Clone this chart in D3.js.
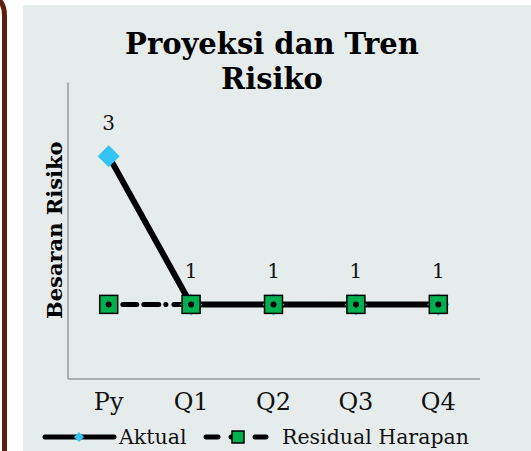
<!DOCTYPE html>
<html>
<head>
<meta charset="utf-8">
<script src="https://cdn.jsdelivr.net/npm/d3@7/dist/d3.min.js"></script>
<style>
  html, body { margin: 0; padding: 0; background: #ffffff; }
  svg { display: block; }
  text { font-family: "DejaVu Serif", "Liberation Serif", serif; }
</style>
</head>
<body>
<svg id="chart" width="531" height="451"></svg>
<script>
// Periods on the horizontal axis
const categories = ["Py", "Q1", "Q2", "Q3", "Q4"];
// Series values
const aktual = [3, 1, 1, 1, 1];
const residualHarapan = [1, 1, 1, 1, 1];
// Value labels shown above the Aktual points
const valueLabels = ["3", "1", "1", "1", "1"];
const titleLines = ["Proyeksi dan Tren", "Risiko"];
const yTitle = "Besaran Risiko";
const seriesNames = ["Aktual", "Residual Harapan"];

const W = 531, H = 451;
const svg = d3.select("#chart");

// Slide frame edge on the left and the chart panel
svg.append("path")
  .attr("d", "M4.5,451 V16 Q4.5,2 -4,-2")
  .attr("fill", "none")
  .attr("stroke", "#5b1f0e")
  .attr("stroke-width", 5);

svg.append("rect")
  .attr("x", 23).attr("y", 5)
  .attr("width", W - 23).attr("height", H - 5)
  .attr("fill", "#e6ecec");

const plot = { left: 67.5, right: 479.5, top: 82, bottom: 378.5 };

const x = d3.scaleBand()
  .domain(categories)
  .range([plot.left, plot.right])
  .padding(0);

const y = d3.scaleLinear()
  .domain([0, 4])
  .range([plot.bottom, plot.top]);

const cx = d => x(d) + x.bandwidth() / 2;

// Axes
const xAxis = d3.axisBottom(x).tickSize(0).tickPadding(14);
const gx = svg.append("g")
  .attr("transform", `translate(0,${plot.bottom})`)
  .call(xAxis);
gx.select(".domain").attr("stroke", "#9a9a9a").attr("stroke-width", 1.5);
gx.selectAll("text")
  .attr("font-size", 24)
  .attr("fill", "#111")
  .style("font-family", "DejaVu Serif");

const yAxis = d3.axisLeft(y).tickValues([]).tickSize(0);
const gy = svg.append("g")
  .attr("transform", `translate(${plot.left},0)`)
  .call(yAxis);
gy.select(".domain").attr("stroke", "#9a9a9a").attr("stroke-width", 1.5);

// Titles
svg.selectAll("text.title")
  .data(titleLines)
  .join("text")
  .attr("class", "title")
  .attr("x", 272)
  .attr("y", (d, i) => 54 + i * 35)
  .attr("text-anchor", "middle")
  .attr("font-size", 29)
  .attr("font-weight", "bold")
  .attr("fill", "#000")
  .text(d => d);

svg.append("text")
  .attr("transform", `translate(62,${(plot.top + plot.bottom) / 2}) rotate(-90)`)
  .attr("text-anchor", "middle")
  .attr("font-size", 21)
  .attr("font-weight", "bold")
  .attr("fill", "#000")
  .text(yTitle);

// Residual Harapan line (dash-dot)
const line = d3.line().x((d, i) => cx(categories[i])).y(d => y(d));

svg.append("path")
  .datum(residualHarapan)
  .attr("d", line)
  .attr("fill", "none")
  .attr("stroke", "#000")
  .attr("stroke-width", 5)
  .attr("stroke-linecap", "round")
  .attr("stroke-dasharray", "0.1 8 14 7 15 7")
  .attr("stroke-dashoffset", -6);

// Aktual line (solid)
svg.append("path")
  .datum(aktual)
  .attr("d", line)
  .attr("fill", "none")
  .attr("stroke", "#000")
  .attr("stroke-width", 6);

// Aktual diamond markers
const diamond = s => `M0,${-s} L${s},0 L0,${s} L${-s},0 Z`;
svg.append("g").selectAll("path")
  .data(aktual)
  .join("path")
  .attr("transform", (d, i) => `translate(${cx(categories[i])},${y(d)})`)
  .attr("d", diamond(11))
  .attr("fill", "#33c4f5");

// Residual Harapan square markers
const sq = 18;
const mk = svg.append("g").selectAll("g")
  .data(residualHarapan)
  .join("g")
  .attr("transform", (d, i) => `translate(${cx(categories[i])},${y(d)})`);
mk.append("rect")
  .attr("x", -sq / 2).attr("y", -sq / 2)
  .attr("width", sq).attr("height", sq)
  .attr("fill", "#00b050")
  .attr("stroke", "#000")
  .attr("stroke-width", 1.5);
mk.append("circle")
  .attr("r", 3)
  .attr("fill", "#000");

// Value labels
svg.append("g").selectAll("text")
  .data(aktual)
  .join("text")
  .attr("x", (d, i) => cx(categories[i]))
  .attr("y", d => y(d) - 26)
  .attr("text-anchor", "middle")
  .attr("font-size", 20)
  .attr("fill", "#111")
  .text((d, i) => valueLabels[i]);

// Legend
const ly = 437;
const lg = svg.append("g");
lg.append("line")
  .attr("x1", 45).attr("x2", 114).attr("y1", ly).attr("y2", ly)
  .attr("stroke", "#000").attr("stroke-width", 5).attr("stroke-linecap", "round");
lg.append("path")
  .attr("transform", `translate(79,${ly})`)
  .attr("d", diamond(5))
  .attr("fill", "#33c4f5");
lg.append("text")
  .attr("x", 119).attr("y", ly + 7)
  .attr("font-size", 20.5)
  .attr("fill", "#111")
  .text(seriesNames[0]);

lg.append("line")
  .attr("x1", 206).attr("x2", 218).attr("y1", ly).attr("y2", ly)
  .attr("stroke", "#000").attr("stroke-width", 5).attr("stroke-linecap", "round");
lg.append("line")
  .attr("x1", 231).attr("x2", 236).attr("y1", ly).attr("y2", ly)
  .attr("stroke", "#000").attr("stroke-width", 5).attr("stroke-linecap", "round");
lg.append("line")
  .attr("x1", 255).attr("x2", 266).attr("y1", ly).attr("y2", ly)
  .attr("stroke", "#000").attr("stroke-width", 5).attr("stroke-linecap", "round");
lg.append("rect")
  .attr("x", 232).attr("y", ly - 6)
  .attr("width", 12).attr("height", 12)
  .attr("fill", "#00b050").attr("stroke", "#000").attr("stroke-width", 1.5);
lg.append("text")
  .attr("x", 282).attr("y", ly + 7)
  .attr("font-size", 20.5)
  .attr("fill", "#111")
  .text(seriesNames[1]);
</script>
</body>
</html>
